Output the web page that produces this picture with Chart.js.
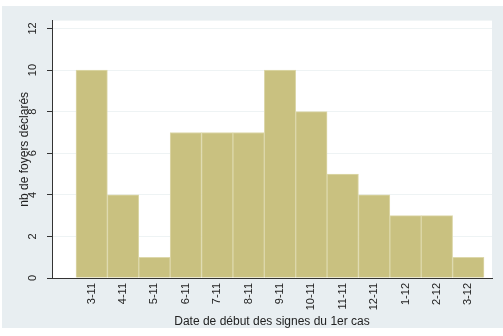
<!DOCTYPE html>
<html>
<head>
<meta charset="utf-8">
<script src="https://cdn.jsdelivr.net/npm/chart.js@4/dist/chart.umd.min.js"></script>
<style>
  html, body { margin: 0; padding: 0; background: #ffffff; }
  #frame { position: absolute; left: 2px; top: 6px; width: 501px; height: 322px; background: #e8eef1; }
</style>
</head>
<body>
<div id="frame"><canvas id="histo" width="501" height="322"></canvas></div>
<script>
// semaine de début des signes (jour-mois) et nombre de foyers déclarés
var semaines = ["3-11", "4-11", "5-11", "6-11", "7-11", "8-11", "9-11", "10-11", "11-11", "12-11", "1-12", "2-12", "3-12"];
var foyers = [10, 4, 1, 7, 7, 7, 10, 8, 5, 4, 3, 3, 1];
var graduationsY = [0, 2, 4, 6, 8, 10, 12];

var points = semaines.map(function (s, i) { return { x: i + 1, y: foyers[i] }; });

// fond blanc de la zone de tracé
var fondTrace = {
    id: "fondTrace",
    beforeDraw: function (chart) {
        var a = chart.chartArea;
        var ctx = chart.ctx;
        ctx.save();
        ctx.fillStyle = "#ffffff";
        ctx.fillRect(a.left, a.top, a.right - a.left, a.bottom - a.top);
        ctx.restore();
    }
};

Chart.defaults.font.family = "'Liberation Sans', Arial, sans-serif";
Chart.defaults.color = "#222222";

new Chart(document.getElementById("histo").getContext("2d"), {
    type: "bar",
    data: {
        datasets: [{
            data: points,
            backgroundColor: "#c9c180",
            borderColor: "#ddd8ab",
            borderWidth: 1,
            barPercentage: 1,
            categoryPercentage: 1
        }]
    },
    plugins: [fondTrace],
    options: {
        responsive: false,
        animation: false,
        layout: { padding: { top: 11, right: 11, left: 0, bottom: 0 } },
        plugins: { legend: { display: false }, tooltip: { enabled: false } },
        scales: {
            x: {
                type: "linear",
                offset: false,
                min: -0.265,
                max: 13.755,
                afterBuildTicks: function (scale) {
                    scale.ticks = semaines.map(function (s, i) { return { value: i + 1 }; });
                },
                afterFit: function (scale) { scale.height = 50; },
                grid: { display: false, drawTicks: false },
                border: { color: "#333333", width: 1 },
                ticks: {
                    autoSkip: false,
                    minRotation: 90,
                    maxRotation: 90,
                    padding: 5,
                    font: { size: 11 },
                    callback: function (v) { return semaines[v - 1]; }
                },
                title: {
                    display: true,
                    text: "Date de début des signes du 1er cas",
                    font: { size: 12 },
                    padding: { top: 0, bottom: -1 }
                }
            },
            y: {
                min: 0,
                max: 12.38,
                afterBuildTicks: function (scale) {
                    scale.ticks = graduationsY.map(function (v) { return { value: v }; });
                },
                afterFit: function (scale) { scale.width = 50; },
                grid: { color: "#eef3f4", tickColor: "#333333", tickLength: 5 },
                border: { color: "#333333", width: 1 },
                ticks: {
                    minRotation: 90,
                    maxRotation: 90,
                    crossAlign: "center",
                    padding: 8,
                    font: { size: 11 }
                },
                title: {
                    display: true,
                    text: "nb de foyers déclarés",
                    font: { size: 12 },
                    padding: { top: 15, bottom: 0 }
                }
            }
        }
    }
});
</script>
</body>
</html>
